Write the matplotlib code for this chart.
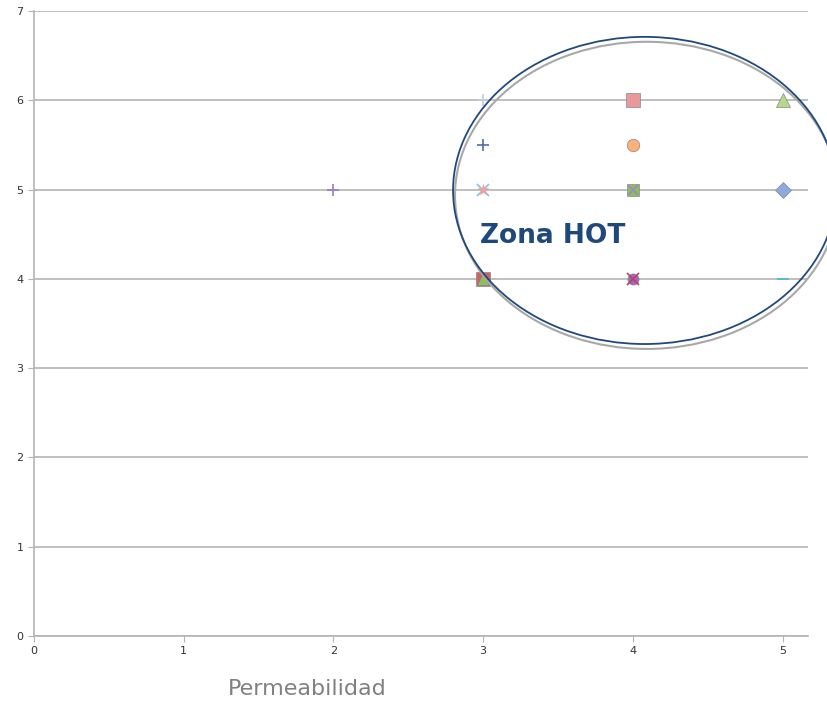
import matplotlib
matplotlib.use("Agg")
import matplotlib.pyplot as plt
from matplotlib.patches import Ellipse

# data points (permeabilidad, y)
px = [3, 4, 5, 3, 4, 2, 3, 3, 4, 4, 5, 3, 3, 4, 4, 5]
py = [6, 6, 6, 5.5, 5.5, 5, 5, 5, 5, 5, 5, 4, 4, 4, 4, 4]

# marker styles for each point
mk = ['+', 's', '^', '+', 'o', '+', 'x', '*', 's', 'x', 'D', 's', '^', 'o', 'x', '_']
col = ['#c0cde3', '#e89a9a', '#b5d88a', '#4f6fa8', '#ffb07a', '#9c7ac0', '#7fc8d8', '#f0a0a0',
       '#8cbf5a', '#9a8ac0', '#8da9e0', '#d46060', '#8cbf5a', '#9a6ac0', '#c04060', '#4bb8d8']
sz = [9, 10, 10, 9, 9, 9, 8, 8, 9, 7, 8, 10, 9, 8, 8, 8]

xticks = [0, 1, 2, 3, 4, 5]
yticks = [0, 1, 2, 3, 4, 5, 6, 7]

fig = plt.figure(figsize=(8.27, 7.08), dpi=100)
ax = fig.add_axes([0.0411, 0.1017, 0.936, 0.8828])

ax.set_xlim(0, 5.17)
ax.set_ylim(0, 7)
ax.set_xticks(xticks)
ax.set_yticks(yticks)
ax.grid(axis='y', color='#b4b4b4', linewidth=1.2)
ax.set_axisbelow(True)

for x, y, m, c, s in zip(px, py, mk, col, sz):
    ax.plot(x, y, marker=m, color=c, markersize=s, markeredgewidth=1.2 if m in '+x_' else 0.5,
            markeredgecolor=c if m in '+x_*' else '#888888', linestyle='none', zorder=3)

for s in ['top', 'right']:
    ax.spines[s].set_visible(False)
for s in ['left', 'bottom']:
    ax.spines[s].set_color('#b4b4b4')
    ax.spines[s].set_linewidth(1.2)
ax.tick_params(direction='out', length=4, color='#b4b4b4', labelsize=8, labelcolor='#333333')

fig.text(0.372, 0.018, 'Permeabilidad', fontsize=16, color='#808080', ha='center')

# the "hot zone" ellipse, double outline
e1 = Ellipse((4.092, 4.935), 2.56, 3.44, fill=False, edgecolor='#a8a8a8', linewidth=1.5,
             clip_on=False, zorder=4)
e2 = Ellipse((4.079, 4.99), 2.56, 3.44, fill=False, edgecolor='#1f497d', linewidth=1.3,
             clip_on=False, zorder=5)
ax.add_patch(e1)
ax.add_patch(e2)
ax.text(2.98, 4.48, 'Zona HOT', fontsize=19, fontweight='bold', color='#1f497d',
        ha='left', va='center', zorder=6)

fig.savefig('out.png', dpi=100)
